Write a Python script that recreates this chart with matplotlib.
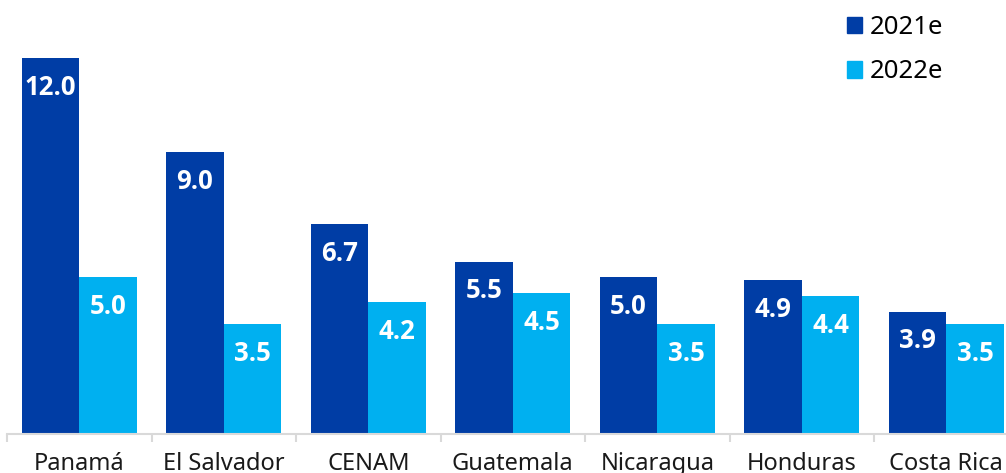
import matplotlib.pyplot as plt
import matplotlib.patches as mpatches
import numpy as np

countries = ["Panamá", "El Salvador", "CENAM", "Guatemala", "Nicaragua", "Honduras", "Costa Rica"]
growth_2021 = [12.0, 9.0, 6.7, 5.5, 5.0, 4.9, 3.9]
growth_2022 = [5.0, 3.5, 4.2, 4.5, 3.5, 4.4, 3.5]
series_labels = ["2021e", "2022e"]

DARK = "#003DA5"
LIGHT = "#00B0F0"
FONT = "Noto Sans"
BOLD_FONT = "Open Sans"

fig = plt.figure(figsize=(10.06, 4.73), dpi=100)
ax = fig.add_axes([7 / 1006, 39 / 473, 999 / 1006, 434 / 473])

x = np.arange(len(countries))
w = 0.398
b1 = ax.bar(x - w / 2, growth_2021, w, color=DARK, label=series_labels[0])
b2 = ax.bar(x + w / 2, growth_2022, w, color=LIGHT, label=series_labels[1])

for bars in (b1, b2):
    for rect in bars:
        v = rect.get_height()
        ax.annotate(f"{v:.1f}", (rect.get_x() + rect.get_width() / 2, v),
                    xytext=(0, -21), textcoords="offset points",
                    ha="center", va="center", color="white",
                    fontsize=18.5, fontweight="bold", family=BOLD_FONT)

for side in ("top", "right", "left"):
    ax.spines[side].set_visible(False)
ax.spines["bottom"].set_color("#D9D9D9")
ax.spines["bottom"].set_linewidth(1.5)
ax.set_yticks([])

ax.set_xticks(x)
ax.set_xticklabels(countries, fontsize=17, family=FONT, color="#1a1a1a")
ax.tick_params(axis="x", which="major", length=0, pad=13)
ax.set_xticks(np.arange(len(countries) + 1) - 0.5, minor=True)
ax.tick_params(axis="x", which="minor", length=6, color="#D9D9D9", width=1.5)

# limits last, set_xticks would widen them otherwise
ax.set_xlim(-0.5, -0.5 + 999 / 144.5)
ax.set_ylim(0, 434 / 31.33)

handles = [mpatches.Patch(color=DARK, label=series_labels[0]),
           mpatches.Patch(color=LIGHT, label=series_labels[1])]
fig.legend(handles=handles, loc="upper left", bbox_to_anchor=(829 / 1006, 1.006),
           frameon=False, prop={"family": FONT, "size": 18.5},
           handlelength=0.6, handleheight=0.6, handletextpad=0.3,
           labelspacing=0.75, borderaxespad=0.3)

fig.savefig("out.png", dpi=100)
